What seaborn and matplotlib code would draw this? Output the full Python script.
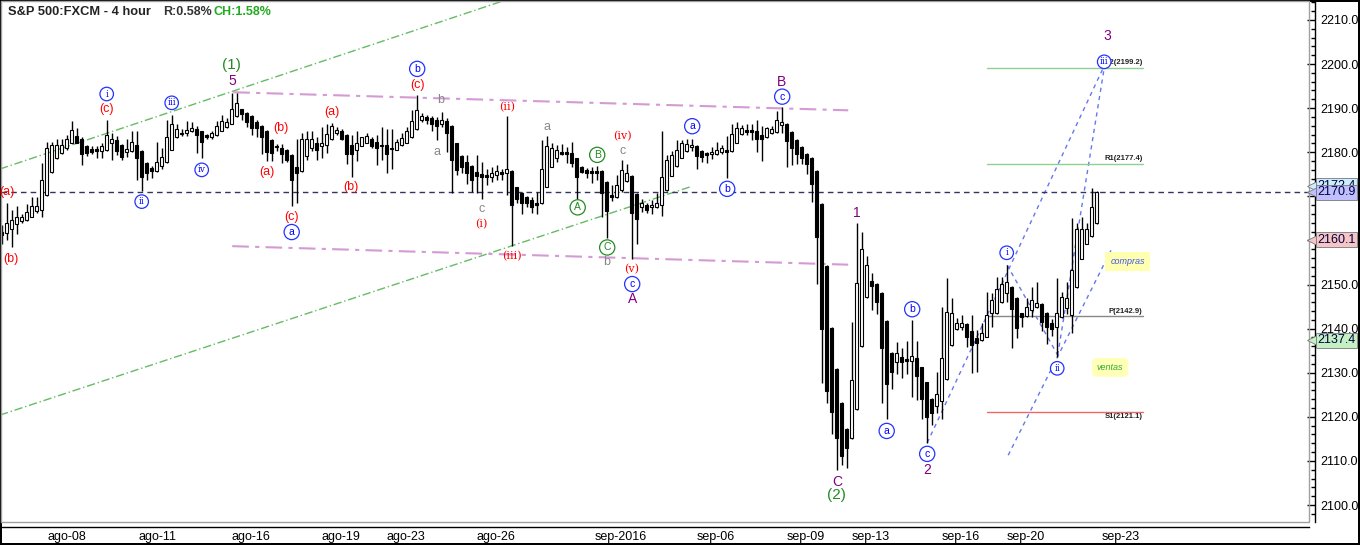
import numpy as np
import pandas as pd
import matplotlib
matplotlib.use('Agg')
import matplotlib.pyplot as plt
import matplotlib.transforms as mtransforms
from matplotlib.patches import Rectangle
from matplotlib.ticker import MultipleLocator
import seaborn as sns

sns.set_theme(style='white')
plt.rcParams['font.family'] = ['Liberation Sans Narrow', 'Liberation Sans', 'DejaVu Sans']

# velas de 4 horas (S&P 500 FXCM)
open_ = [2162.0, 2161.6, 2162.7, 2163.7, 2164.4, 2164.6, 2165.4, 2166.7, 2166.9, 2170.3,
         2175.6, 2178.6, 2179.9, 2180.9, 2182.2, 2183.7, 2182.9, 2181.4, 2180.7, 2180.7,
         2180.3, 2180.5, 2182.2, 2182.8, 2181.6, 2180.1, 2180.3, 2181.6, 2180.3, 2177.5,
         2176.5, 2175.8, 2176.9, 2177.8, 2180.6, 2183.5, 2184.4, 2184.3, 2184.7, 2185.2,
         2184.7, 2183.8, 2183.4, 2183.9, 2184.9, 2185.8, 2186.5, 2188.1, 2189.7, 2189.0,
         2188.2, 2186.9, 2186.0, 2184.8, 2182.8, 2181.4, 2181.0, 2180.5, 2179.4, 2176.6,
         2175.8, 2179.1, 2181.0, 2182.2, 2181.4, 2181.6, 2182.9, 2184.3, 2184.8, 2183.9,
         2181.6, 2180.6, 2181.5, 2182.2, 2183.1, 2182.4, 2181.6, 2181.6, 2181.0, 2180.6,
         2181.6, 2182.2, 2183.5, 2185.2, 2187.4, 2187.9, 2187.7, 2187.4, 2186.5, 2187.1,
         2185.9, 2182.0, 2179.1, 2177.8, 2176.9, 2175.5, 2175.0, 2174.8, 2174.4, 2174.9,
         2175.6, 2175.2, 2175.7, 2172.0, 2170.7, 2169.9, 2169.2, 2168.4, 2168.4, 2172.2,
         2176.7, 2178.8, 2180.1, 2180.1, 2179.9, 2178.6, 2176.6, 2175.9, 2175.8, 2175.8,
         2175.8, 2173.3, 2170.3, 2169.9, 2171.4, 2173.5, 2174.6, 2170.5, 2167.5, 2168.0,
         2167.5, 2167.6, 2168.0, 2171.4, 2174.7, 2176.9, 2178.8, 2180.3, 2181.1, 2181.4,
         2180.3, 2179.9, 2179.5, 2179.7, 2180.0, 2180.5, 2180.3, 2182.2, 2184.1, 2185.0,
         2185.0, 2184.8, 2184.0, 2183.4, 2184.3, 2184.6, 2186.2, 2186.5, 2184.5, 2182.8,
         2181.2, 2179.7, 2178.8, 2175.8, 2168.2, 2154.2, 2140.2, 2130.8, 2123.2, 2117.2,
         2115.1, 2121.7, 2136.0, 2147.1, 2150.9, 2150.1, 2148.1, 2141.8, 2134.5, 2132.5,
         2133.5, 2133.0, 2132.7, 2133.3, 2131.2, 2127.8, 2124.0, 2122.4, 2123.6, 2128.5,
         2136.3, 2139.9, 2140.4, 2141.0, 2139.5, 2137.9, 2137.4, 2138.2, 2143.5, 2143.5,
         2146.1, 2148.0, 2149.4, 2146.9, 2143.5, 2142.9, 2144.2, 2145.0, 2145.6, 2143.5,
         2141.2, 2140.4, 2142.7, 2144.6, 2143.1, 2149.5, 2155.9, 2159.3, 2161.0, 2164.0]
high = [2163.5, 2168.4, 2166.9, 2167.8, 2166.0, 2168.2, 2169.9, 2169.9, 2177.5, 2182.4,
        2182.4, 2183.1, 2182.9, 2183.9, 2187.1, 2185.4, 2183.4, 2181.6, 2181.3, 2181.3,
        2182.0, 2187.4, 2184.3, 2183.7, 2181.8, 2183.1, 2184.7, 2184.7, 2180.5, 2177.7,
        2176.9, 2182.4, 2180.9, 2187.4, 2188.4, 2186.5, 2185.2, 2187.1, 2186.9, 2186.0,
        2184.9, 2184.1, 2184.7, 2187.1, 2188.4, 2187.7, 2193.5, 2193.4, 2189.9, 2189.2,
        2188.4, 2187.4, 2186.2, 2185.0, 2183.0, 2181.8, 2181.8, 2180.7, 2179.6, 2182.9,
        2184.3, 2184.7, 2184.8, 2183.5, 2185.8, 2186.5, 2186.7, 2185.8, 2185.2, 2184.1,
        2183.9, 2184.9, 2183.5, 2184.3, 2183.4, 2183.9, 2185.8, 2185.2, 2185.2, 2183.1,
        2184.3, 2185.8, 2189.6, 2193.0, 2188.8, 2188.4, 2188.1, 2187.9, 2189.2, 2187.8,
        2186.1, 2182.2, 2179.3, 2179.4, 2177.1, 2179.4, 2177.8, 2176.1, 2176.6, 2177.1,
        2176.1, 2188.1, 2175.9, 2172.2, 2170.9, 2170.1, 2169.9, 2171.0, 2182.8, 2183.7,
        2182.0, 2181.6, 2181.9, 2181.2, 2182.4, 2178.8, 2176.9, 2176.5, 2176.7, 2176.9,
        2176.0, 2173.5, 2172.6, 2174.8, 2178.2, 2177.3, 2174.8, 2170.7, 2169.5, 2168.4,
        2169.2, 2170.7, 2184.9, 2179.4, 2180.3, 2182.8, 2182.8, 2183.1, 2183.1, 2181.6,
        2180.5, 2180.1, 2181.2, 2182.4, 2181.6, 2183.7, 2186.5, 2186.8, 2186.2, 2186.3,
        2186.5, 2187.3, 2185.9, 2185.8, 2185.9, 2189.4, 2190.2, 2186.7, 2184.7, 2183.0,
        2181.4, 2179.9, 2179.0, 2176.0, 2168.4, 2154.4, 2140.4, 2131.0, 2123.4, 2117.5,
        2141.6, 2164.0, 2162.0, 2156.5, 2152.7, 2150.3, 2148.3, 2142.0, 2134.7, 2137.0,
        2135.5, 2137.3, 2142.0, 2137.3, 2131.4, 2128.0, 2124.2, 2130.2, 2145.0, 2151.4,
        2146.9, 2142.3, 2143.1, 2141.2, 2143.1, 2139.7, 2141.2, 2148.4, 2148.0, 2151.8,
        2151.8, 2154.4, 2149.6, 2147.1, 2143.6, 2146.9, 2149.5, 2150.6, 2145.7, 2143.7,
        2142.1, 2151.4, 2148.4, 2150.6, 2165.0, 2163.9, 2165.4, 2163.9, 2171.8, 2171.3]
low = [2159.3, 2160.2, 2158.6, 2161.4, 2163.9, 2164.5, 2165.2, 2166.3, 2165.2, 2170.1,
       2175.4, 2178.4, 2179.7, 2180.5, 2182.0, 2182.0, 2177.2, 2179.1, 2179.6, 2178.8,
       2178.8, 2180.3, 2178.2, 2179.4, 2178.2, 2179.0, 2180.1, 2173.7, 2171.3, 2173.7,
       2174.2, 2175.6, 2176.3, 2177.6, 2180.4, 2183.3, 2183.7, 2183.7, 2184.5, 2179.9,
       2178.8, 2183.1, 2183.1, 2183.7, 2184.7, 2185.6, 2186.3, 2187.9, 2187.3, 2185.8,
       2183.9, 2183.5, 2179.7, 2178.0, 2178.0, 2180.3, 2177.5, 2177.8, 2167.8, 2168.4,
       2175.6, 2178.2, 2180.3, 2178.2, 2178.6, 2179.9, 2182.7, 2183.9, 2182.8, 2177.3,
       2174.4, 2178.0, 2181.3, 2182.0, 2181.0, 2177.1, 2178.2, 2175.4, 2176.3, 2180.5,
       2181.4, 2182.0, 2183.3, 2185.0, 2186.9, 2186.5, 2184.7, 2182.8, 2185.8, 2180.1,
       2170.7, 2174.8, 2175.2, 2172.9, 2171.0, 2170.7, 2169.5, 2172.6, 2173.3, 2173.7,
       2173.8, 2170.3, 2158.7, 2168.4, 2165.9, 2167.5, 2166.3, 2166.1, 2168.2, 2172.0,
       2176.6, 2177.8, 2179.4, 2177.6, 2176.7, 2169.5, 2175.2, 2174.1, 2173.1, 2173.7,
       2165.4, 2160.5, 2169.0, 2169.7, 2171.0, 2173.3, 2155.9, 2159.2, 2166.5, 2166.3,
       2166.1, 2167.3, 2165.5, 2171.2, 2174.5, 2176.7, 2178.6, 2180.1, 2180.3, 2176.2,
       2177.8, 2177.6, 2178.4, 2179.4, 2179.7, 2174.2, 2180.1, 2182.0, 2183.9, 2183.9,
       2182.8, 2180.1, 2178.1, 2183.2, 2184.1, 2184.4, 2184.3, 2176.7, 2177.1, 2177.3,
       2177.3, 2175.0, 2168.8, 2150.1, 2127.7, 2123.2, 2116.2, 2107.9, 2109.1, 2108.3,
       2114.9, 2121.5, 2135.8, 2146.9, 2144.2, 2143.3, 2123.2, 2119.6, 2126.4, 2129.7,
       2128.7, 2129.8, 2124.6, 2123.8, 2119.6, 2114.1, 2118.1, 2120.8, 2119.6, 2128.3,
       2136.1, 2139.7, 2139.8, 2135.9, 2130.0, 2130.2, 2137.3, 2138.0, 2140.4, 2143.3,
       2145.9, 2146.1, 2135.5, 2137.8, 2140.4, 2142.7, 2142.7, 2144.6, 2139.5, 2136.5,
       2138.3, 2133.6, 2142.5, 2143.3, 2138.9, 2149.3, 2155.7, 2159.2, 2160.8, 2163.8]
close = [2161.2, 2164.0, 2164.6, 2165.2, 2165.2, 2166.4, 2167.8, 2167.8, 2173.7, 2180.9,
         2181.6, 2181.6, 2181.6, 2183.1, 2185.0, 2182.2, 2179.6, 2179.9, 2180.1, 2180.3,
         2181.3, 2183.9, 2182.9, 2180.3, 2179.0, 2180.7, 2182.4, 2178.8, 2174.4, 2175.2,
         2175.7, 2177.8, 2179.0, 2183.4, 2186.5, 2185.2, 2184.1, 2185.0, 2185.6, 2183.9,
         2182.4, 2183.4, 2184.4, 2186.0, 2187.1, 2186.9, 2189.9, 2191.1, 2188.6, 2186.9,
         2185.4, 2185.6, 2183.4, 2180.1, 2179.9, 2181.1, 2179.7, 2178.2, 2173.8, 2175.4,
         2182.9, 2182.9, 2183.1, 2180.6, 2182.2, 2184.1, 2186.0, 2185.0, 2182.9, 2179.6,
         2179.7, 2182.2, 2183.4, 2183.7, 2181.3, 2181.0, 2181.4, 2179.6, 2180.7, 2182.4,
         2183.3, 2184.9, 2187.1, 2189.6, 2188.2, 2187.3, 2186.5, 2186.0, 2187.4, 2184.4,
         2178.2, 2175.9, 2176.6, 2175.2, 2173.7, 2174.6, 2174.3, 2174.4, 2175.2, 2175.7,
         2175.0, 2176.1, 2168.0, 2169.5, 2168.4, 2168.5, 2167.5, 2168.0, 2176.1, 2181.4,
         2180.9, 2180.6, 2179.7, 2179.5, 2177.5, 2174.4, 2175.6, 2175.4, 2175.4, 2175.4,
         2170.7, 2166.7, 2169.9, 2172.6, 2175.9, 2175.2, 2166.3, 2164.8, 2168.5, 2167.0,
         2168.0, 2168.5, 2174.3, 2178.2, 2179.4, 2180.6, 2182.0, 2181.9, 2181.6, 2179.2,
         2179.0, 2179.4, 2180.1, 2180.6, 2180.9, 2180.1, 2184.1, 2185.6, 2185.6, 2184.6,
         2184.5, 2183.1, 2182.9, 2185.4, 2185.3, 2187.3, 2186.8, 2182.6, 2180.9, 2179.5,
         2178.6, 2177.3, 2172.9, 2160.7, 2140.0, 2125.9, 2121.2, 2115.3, 2111.2, 2113.0,
         2128.3, 2150.4, 2158.0, 2154.4, 2149.6, 2146.0, 2135.5, 2127.4, 2130.2, 2134.5,
         2132.5, 2132.7, 2133.8, 2129.2, 2124.0, 2120.0, 2120.8, 2125.1, 2133.3, 2143.8,
         2143.5, 2141.2, 2141.2, 2138.0, 2136.3, 2136.7, 2138.9, 2143.1, 2146.5, 2149.0,
         2150.1, 2150.5, 2144.4, 2140.1, 2142.6, 2145.0, 2146.5, 2145.7, 2141.6, 2140.4,
         2139.9, 2143.6, 2147.2, 2146.9, 2153.3, 2162.5, 2162.5, 2162.5, 2167.5, 2170.9]

# fechas del eje x (posicion en numero de vela)
date_pos = [13.1, 31.1, 49.9, 67.9, 80.9, 98.9, 123.9, 142.9, 160.9, 173.9, 191.9, 204.9, 223.9, 259.3]
date_lbl = ['ago-08', 'ago-11', 'ago-16', 'ago-19', 'ago-23', 'ago-26', 'sep-2016',
            'sep-06', 'sep-09', 'sep-13', 'sep-16', 'sep-20', 'sep-23', '']

# conteo de ondas
wave_txt = ['(a)', '(b)', '(c)', 'i', 'iii', 'ii', 'iv', '(1)', '5', '(b)', '(a)', '(c)', 'a',
            '(a)', '(b)', 'b', '(c)', 'b', 'a', '(ii)', 'c', '(i)', '(iii)', 'a', 'B', '(iv)',
            'c', 'A', 'C', 'b', '(v)', 'c', 'A', 'a', 'b', 'B', 'c', '1', 'a', 'b', 'c', '2',
            'C', '(2)', 'i', 'ii', '3', 'iii']
wave_x = [1.0, 1.9, 21.0, 21.0, 34.0, 28.0, 40.0, 45.9, 46.1, 55.9, 53.0, 58.0, 58.0,
          66.0, 69.9, 83.1, 83.1, 87.8, 87.0, 101.0, 96.0, 96.0, 102.0, 109.1, 119.1, 124.1,
          124.1, 115.2, 121.1, 120.9, 126.0, 126.1, 126.1, 138.1, 145.1, 156.0, 156.1, 171.1,
          177.0, 182.1, 185.1, 185.1, 167.1, 167.0, 201.0, 211.1, 221.1, 220.5]
wave_y = [2171.0, 2155.8, 2189.8, 2193.2, 2191.2, 2168.8, 2176.0, 2199.8, 2196.1, 2185.5,
          2175.5, 2165.3, 2161.9, 2189.1, 2172.1, 2198.9, 2195.2, 2191.8, 2180.1, 2190.2,
          2167.1, 2163.7, 2156.5, 2185.8, 2179.4, 2183.7, 2180.3, 2167.5, 2158.4, 2155.2,
          2153.4, 2150.1, 2146.7, 2185.9, 2171.7, 2195.9, 2192.6, 2166.3, 2116.8, 2144.4,
          2111.6, 2107.9, 2105.3, 2102.3, 2157.2, 2131.0, 2206.4, 2200.5]
wave_sty = ['red', 'red', 'red', 'bluec', 'bluec', 'bluec', 'bluec', 'green', 'purple', 'red',
            'red', 'red', 'bluec', 'red', 'red', 'bluec', 'red', 'gray', 'gray', 'red', 'gray',
            'red', 'red', 'gray', 'greenc', 'red', 'gray', 'greenc', 'greenc', 'gray', 'red',
            'bluec', 'purple', 'bluec', 'bluec', 'purple', 'bluec', 'purple', 'bluec', 'bluec',
            'bluec', 'purple', 'purple', 'green', 'bluec', 'bluec', 'purple', 'bluec']

# lineas de tendencia (vela, precio)
green_lines = [[(-0.34, 2176.2), (110.0, 2218.0)], [(-0.34, 2120.4), (138.1, 2172.3)]]
pink_lines = [[(46.3, 2193.6), (169.3, 2189.5)], [(46.1, 2158.7), (169.3, 2154.5)]]
blue_lines = [[(185.1, 2114.1), (220.3, 2199.1)], [(211.2, 2134.0), (220.5, 2199.1)],
              [(201.1, 2154.4), (211.2, 2134.0)], [(201.3, 2111.3), (222.1, 2158.3)]]

# pivotes
piv_name = ['R2', 'R1', 'P', 'S1']
piv_val = [2199.2, 2177.4, 2142.9, 2121.1]
piv_col = ['#90d090', '#90d090', '#888888', '#ee6666']
piv_x = (197.1, 228.2)

# etiquetas de precio en el eje
flag_val = [2172.4, 2170.9, 2160.1, 2137.4]
flag_col = ['#cdeeff', '#c0c0ff', '#f6c6c6', '#c4f0c4']

df = pd.DataFrame({'o': open_, 'h': high, 'l': low, 'c': close})
df['x'] = np.arange(len(df))
df['up'] = df['c'] >= df['o']
df['lo'] = df[['o', 'c']].min(axis=1)
df['body'] = (df['c'] - df['o']).abs().clip(lower=0.25)

fig = plt.figure(figsize=(13.6, 5.45), dpi=100)
fig.patch.set_facecolor('white')
fig.patch.set_edgecolor('black')
fig.patch.set_linewidth(1.5)
ax = fig.add_axes([1 / 1360, 23 / 545, 1308 / 1360, 521 / 545])
ax.set_facecolor('white')

ax.vlines(df['x'], df['l'], df['h'], color='black', lw=1, zorder=2)
up = df[df['up']]
dn = df[~df['up']]
ax.bar(up['x'], up['body'], bottom=up['lo'], width=0.6, color='white', edgecolor='black', lw=0.8, zorder=3)
ax.bar(dn['x'], dn['body'], bottom=dn['lo'], width=0.6, color='black', edgecolor='black', lw=0.8, zorder=3)

for seg in green_lines:
    (x0, y0), (x1, y1) = seg
    ax.plot([x0, x1], [y0, y1], color='#66bb66', lw=1, dashes=(6, 2, 1, 2), zorder=1)
for seg in pink_lines:
    (x0, y0), (x1, y1) = seg
    ax.plot([x0, x1], [y0, y1], color='#d49ad4', lw=1.5, dashes=(8, 3, 2, 3), zorder=1)
for seg in blue_lines:
    (x0, y0), (x1, y1) = seg
    ax.plot([x0, x1], [y0, y1], color='#6677ee', lw=1, dashes=(3, 3), zorder=1)

ax.axhline(close[-1], color='#333366', lw=1, dashes=(4, 3), zorder=1)

for name, val, col in zip(piv_name, piv_val, piv_col):
    ax.plot(piv_x, [val, val], color=col, lw=1, zorder=1)
    va = 'top' if name == 'S1' else 'bottom'
    ax.text(piv_x[1], val + (0.3 if va == 'bottom' else -0.2), f'{name}({val:.1f})', ha='right', va=va,
            fontsize=5.5, fontweight='bold', color='#222222', zorder=4)

ax.text(225.2, 2155.3, 'compras', ha='center', va='center', fontsize=6.5, style='italic', color='#4455ee',
        bbox=dict(boxstyle='square,pad=0.55', fc='#ffffb0', ec='none'), zorder=4)
ax.text(221.7, 2131.2, 'ventas', ha='center', va='center', fontsize=6.5, style='italic', color='#33aa33',
        bbox=dict(boxstyle='round,pad=0.55', fc='#ffffb8', ec='none'), zorder=4)

styles = {
    'red': dict(color='#ff0000', fontsize=9),
    'gray': dict(color='#888888', fontsize=9),
    'purple': dict(color='#800080', fontsize=10),
    'green': dict(color='#228b22', fontsize=11),
    'bluec': dict(color='#0000ff', fontsize=7.5,
                  bbox=dict(boxstyle='circle,pad=0.25', fc='white', ec='#2233ff', lw=0.9)),
    'greenc': dict(color='#228b22', fontsize=7.5,
                   bbox=dict(boxstyle='circle,pad=0.25', fc='white', ec='#228b22', lw=0.9)),
}
for t, x, y, s in zip(wave_txt, wave_x, wave_y, wave_sty):
    kw = dict(styles[s])
    roman = t.strip('()') in ('i', 'ii', 'iii', 'iv', 'v')
    if roman:
        kw['family'] = ['DejaVu Serif']
        kw['fontsize'] = kw['fontsize'] - 1
    ax.text(x, y, t, ha='center', va='center', zorder=6, **kw)

ax.set_xlim(-0.14, 261.46)
ax.set_ylim(2096.15, 2214.29)

ax.set_xticks(date_pos)
ax.set_xticklabels(date_lbl)
ax.yaxis.tick_right()
yt = np.arange(2100, 2211, 10)
ax.set_yticks(yt)
# las etiquetas 2160 y 2170 quedan tapadas por las banderas de precio
ax.set_yticklabels(['' if v in (2160, 2170) else f'{v:.1f}' for v in yt])
ax.yaxis.set_minor_locator(MultipleLocator(2))
ax.tick_params(axis='x', direction='in', length=5, width=1, colors='black', labelsize=9, pad=3)
ax.tick_params(axis='y', which='major', direction='in', length=6, width=1, colors='black', labelsize=9, pad=4)
ax.tick_params(axis='y', which='minor', direction='in', length=3, width=1, colors='black', right=True)
ax.grid(False)

for side in ['left', 'top']:
    ax.spines[side].set_visible(False)
ax.spines['right'].set_position(('outward', 4.3))
ax.spines['bottom'].set_position(('outward', 3.6))
for side in ['right', 'bottom']:
    ax.spines[side].set_color('black')
    ax.spines[side].set_linewidth(1)
ax.add_patch(Rectangle((0, 0), 1, 1, transform=ax.transAxes, fill=False, ec='#a0a0a0', lw=1,
                       clip_on=False, zorder=5))

trans = mtransforms.blended_transform_factory(ax.transAxes, ax.transData)
for val, col in zip(flag_val, flag_col):
    ax.plot([1.0035], [val], marker='<', ms=9.5, mfc=col, mec='#777777', mew=0.6,
            transform=trans, clip_on=False, zorder=7)
    ax.text(1.0062, val, f'{val:.1f}', transform=trans, ha='left', va='center', fontsize=9,
            color='#000040', clip_on=False, zorder=8,
            bbox=dict(boxstyle='square,pad=0.12', fc=col, ec='#777777', lw=0.6))

fig.text(8 / 1360, 1 - 12 / 545, 'S&P 500:FXCM - 4 hour', ha='left', va='center', fontsize=9.3,
         fontweight='bold', color='#222222', family=['Liberation Sans', 'DejaVu Sans'])
fig.text(163 / 1360, 1 - 12 / 545, 'R:0.58%', ha='left', va='center', fontsize=9,
         fontweight='bold', color='#333333', family=['Liberation Sans', 'DejaVu Sans'])
fig.text(214 / 1360, 1 - 12 / 545, 'CH:1.58%', ha='left', va='center', fontsize=9,
         fontweight='bold', color='#22aa22', family=['Liberation Sans', 'DejaVu Sans'])

fig.savefig('out.png', dpi=100, facecolor='white', edgecolor='black')
